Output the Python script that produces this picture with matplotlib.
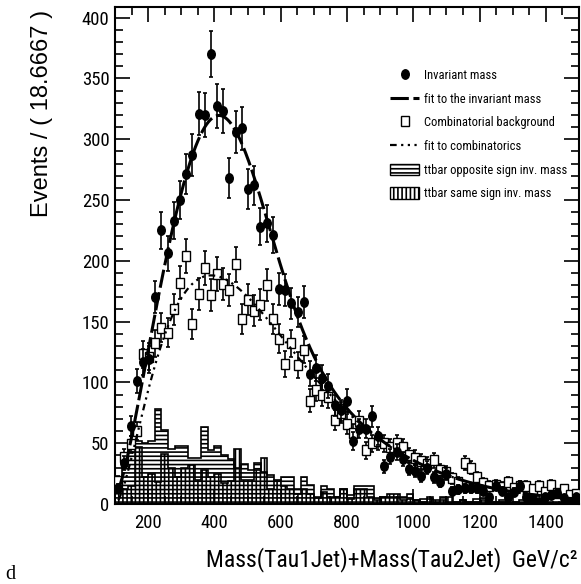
import numpy as np
import matplotlib
matplotlib.use('Agg')
from matplotlib import pyplot as plt
from matplotlib import font_manager
from matplotlib.lines import Line2D
from matplotlib.patches import Patch
from matplotlib.markers import MarkerStyle
from matplotlib.transforms import Affine2D
from matplotlib.ticker import MultipleLocator


def pick_narrow():
    for name in ['Roboto Condensed', 'Liberation Sans Narrow', 'Arial Narrow',
                 'Open Sans Condensed', 'DejaVu Sans Condensed']:
        try:
            font_manager.findfont(font_manager.FontProperties(family=name),
                                  fallback_to_default=False)
            return name, 1.0
        except ValueError:
            pass
    return 'Liberation Sans', 0.82


narrow, shrink = pick_narrow()
plt.rcParams['font.family'] = [narrow, 'DejaVu Sans']
plt.rcParams['hatch.linewidth'] = 1.2

# binning: 75 bins of 18.6667 GeV for the mass points, 20 GeV for the ttbar histograms
x_lo, x_hi = 100.0, 1500.0
n_bins = 75
tt_bin = 20.0

inv_mass = [13, 34, 64, 101, 117, 119, 170, 225, 206, 233,
            250, 271, 287, 321, 320, 370, 327, 323, 268, 306,
            309, 259, 262, 228, 231, 221, 177, 176, 165, 158,
            166, 107, 112, 104, 97, 81, 77, 85, 52, 62,
            62, 72, 56, 31, 39, 43, 37, 29, 27, 23,
            30, 22, 18, 25, 11, 12, 13, 13, 13, 11,
            6, 15, 11, 6, 10, 15, 6, 4, 2, 6,
            7, 9, 5, 2, 6]

comb_bkg = [19, 39, 49, 60, 123, 121, 132, 145, 141, 160,
            182, 204, 148, 173, 194, 172, 189, 181, 176, 197,
            152, 168, 159, 164, 180, 152, 136, 115, 132, 114,
            127, 85, 94, 90, 88, 69, 75, 66, 58, 68,
            44, 50, 52, 50, 47, 50, 47, 40, 38, 35,
            33, 36, 28, 26, 21, 18, 34, 30, 22, 17,
            15, 16, 14, 18, 13, 15, 15, 12, 15, 10,
            16, 9, 12, 7, 8]

ttbar_os = [20, 40, 50, 52, 50, 52, 78, 61, 45, 48,
            48, 38, 38, 63, 44, 48, 40, 37, 30, 33,
            28, 34, 26, 24, 19, 22, 22, 12, 22, 16,
            6, 15, 12, 6, 12, 7, 15, 15, 15, 5,
            6, 6, 6, 6, 8, 3, 4, 4, 2, 6,
            2, 2, 3, 2, 4, 5, 2, 2, 3, 2,
            2, 3, 2, 1, 2, 2, 1, 2, 1, 2]

ttbar_ss = [20, 12, 15, 47, 22, 25, 18, 41, 30, 22,
            30, 32, 20, 28, 22, 25, 17, 19, 45, 20,
            20, 28, 38, 12, 20, 15, 12, 8, 12, 8,
            5, 10, 6, 6, 12, 4, 12, 12, 6, 3,
            6, 8, 8, 3, 4, 3, 2, 6, 3, 3,
            6, 2, 3, 2, 2, 3, 1, 2, 2, 1,
            2, 1, 1, 2, 1, 1, 2, 1, 1, 1]

legend_labels = ['Invariant mass', 'fit to the invariant mass',
                 'Combinatorial background', 'fit to combinatorics',
                 'ttbar opposite sign inv. mass', 'ttbar same sign inv. mass']

# fit results
comb_x0, comb_peak, comb_amp, comb_slope = 100.0, 390.0, 188.0, 170.0
sig_mean, sig_sigma, sig_amp = 425.0, 135.0, 133.0


def comb_fit(x):
    p = (comb_peak - comb_x0) / comb_slope
    u = np.clip((x - comb_x0) / (comb_peak - comb_x0), 0, None)
    return comb_amp * u**p * np.exp(p * (1 - u))


def inv_fit(x):
    return comb_fit(x) + sig_amp * np.exp(-0.5 * ((x - sig_mean) / sig_sigma)**2)


def main():
    edges = np.linspace(x_lo, x_hi, n_bins + 1)
    centers = 0.5 * (edges[:-1] + edges[1:])
    tt_edges = np.arange(x_lo, x_hi + tt_bin / 2, tt_bin)
    inv = np.array(inv_mass, float)
    comb = np.array(comb_bkg, float)

    circ = MarkerStyle('o', transform=Affine2D().scale(0.8, 1.0))
    sq = MarkerStyle('s', transform=Affine2D().scale(0.8, 1.0))

    fig = plt.figure(figsize=(5.81, 5.84), dpi=100)
    ax = fig.add_axes([0.198, 0.137, 0.7986, 0.851])

    ax.stairs(ttbar_os, tt_edges, fill=True, facecolor='none', edgecolor='black',
              hatch='----', lw=1.2, zorder=1)
    ax.stairs(ttbar_ss, tt_edges, fill=True, facecolor='none', edgecolor='black',
              hatch='||||', lw=1.2, zorder=1)

    ax.errorbar(centers, comb, yerr=np.sqrt(comb), fmt='none', ecolor='black',
                elinewidth=1.2, capsize=1.5, capthick=1.2, zorder=2)
    ax.plot(centers, comb, ls='none', marker=sq, ms=6.8, mfc='white', mec='black',
            mew=1.0, zorder=3)

    xf = np.linspace(110, x_hi, 700)
    ax.plot(xf, comb_fit(xf), color='black', lw=1.6, dashes=(3, 2, 1, 2, 1, 2, 1, 2), zorder=4)
    ax.plot(xf, inv_fit(xf), color='black', lw=2.2, dashes=(6, 1.5), zorder=4)

    ax.errorbar(centers, inv, yerr=np.sqrt(inv), fmt='none', ecolor='black',
                elinewidth=1.2, capsize=1.5, capthick=1.2, zorder=5)
    ax.plot(centers, inv, ls='none', marker=circ, ms=6.8, color='black', zorder=6)

    ax.set_xlim(x_lo, x_hi)
    ax.set_ylim(0, 408.7)
    ax.xaxis.set_major_locator(MultipleLocator(200))
    ax.xaxis.set_minor_locator(MultipleLocator(50))
    ax.yaxis.set_major_locator(MultipleLocator(50))
    ax.yaxis.set_minor_locator(MultipleLocator(10))
    ax.tick_params(which='both', direction='in', top=True, right=True, width=1.2,
                   labelsize=13.5 * shrink)
    ax.tick_params(which='major', length=11)
    ax.tick_params(which='minor', length=5.5)
    ax.tick_params(axis='x', pad=7)
    ax.tick_params(axis='y', pad=4)
    for s in ax.spines.values():
        s.set_linewidth(1.5)

    handles = [
        Line2D([], [], ls='none', marker=circ, ms=6.8, color='black'),
        Line2D([], [], color='black', lw=2.2, dashes=(6, 1.5)),
        Line2D([], [], ls='none', marker=sq, ms=6.8, mfc='white', mec='black'),
        Line2D([], [], color='black', lw=1.6, dashes=(3, 2, 1, 2, 1, 2, 1, 2)),
        Patch(facecolor='white', edgecolor='black', hatch='----', lw=1.0),
        Patch(facecolor='white', edgecolor='black', hatch='||||', lw=1.0),
    ]
    fs_leg = 9 * shrink
    ax.legend(handles, legend_labels, loc='upper left',
              bbox_to_anchor=(390 / 581, 1 - 69 / 584), bbox_transform=fig.transFigure,
              frameon=False, fontsize=fs_leg, handlelength=2.35, handleheight=1.05,
              handletextpad=0.4, labelspacing=0.85, borderpad=0, borderaxespad=0)

    fig.text(578 / 581, 1 - 560 / 584, 'Mass(Tau1Jet)+Mass(Tau2Jet)  GeV/c\u00b2',
             ha='right', va='center', fontsize=17 * shrink)
    fig.text(42 / 581, 1 - 10 / 584, 'Events / ( 18.6667 )', rotation=90,
             ha='center', va='top', family='Liberation Sans', fontsize=17)
    fig.text(5 / 581, 1 - 579 / 584, 'd', family='Liberation Serif', fontsize=14.5,
             ha='left', va='baseline')

    fig.savefig('out.png', dpi=100)


if __name__ == '__main__':
    main()
